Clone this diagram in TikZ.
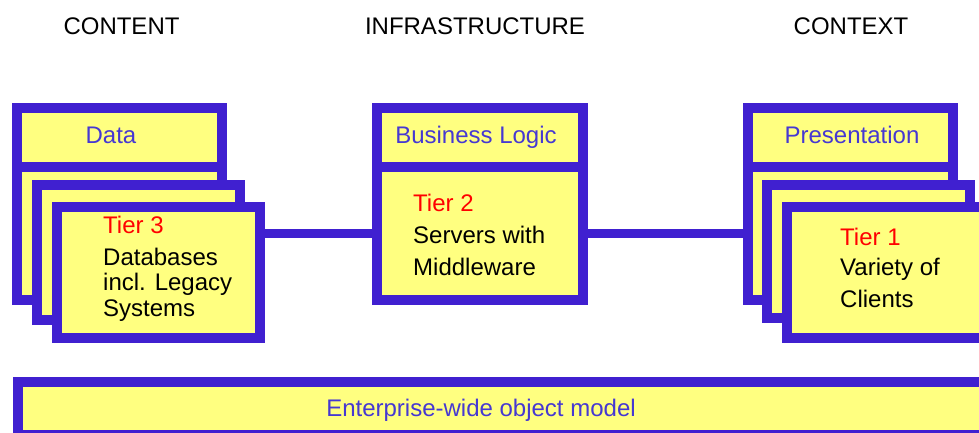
\documentclass[tikz,border=0pt]{standalone}
\usepackage{fontspec}
\setmainfont{Liberation Sans}
\definecolor{frameblue}{RGB}{64,32,208}
\definecolor{paleyellow}{RGB}{255,255,128}
\definecolor{titleblue}{RGB}{70,56,210}
\definecolor{tierred}{RGB}{255,0,0}
\tikzset{
  tierbox/.style={draw=frameblue, fill=paleyellow, line width=10pt, inner sep=0pt, rectangle},
  wire/.style={draw=frameblue, line width=9pt},
  txt/.style={inner sep=0pt, font=\fontsize{24}{25}\selectfont},
  heading/.style={txt, anchor=base, text=black},
  title/.style={txt, anchor=base, text=titleblue},
  tiername/.style={txt, anchor=base west, text=tierred},
  body/.style={txt, anchor=base west, text=black}
}
\begin{document}
\begin{tikzpicture}[x=1pt, y=-1pt]
\useasboundingbox (0,0) rectangle (979,433);
\clip (0,0) rectangle (979,433);

% column headings
\node[heading] (hcontent) at (121.5,35) {CONTENT};
\node[heading] (hinfra)   at (475,35)   {INFRASTRUCTURE};
\node[heading] (hcontext) at (851,35)   {CONTEXT};

% tier 3: stacked database boxes with "Data" header
\node[tierbox, minimum width=205pt, minimum height=133pt] (L1) at (119.5,233.5) {};
\node[tierbox, minimum width=205pt, minimum height=59pt]  (data) at (119.5,137.5) {};
\node[tierbox, minimum width=203pt, minimum height=135pt] (L2) at (138.5,252.5) {};
\node[tierbox, minimum width=203pt, minimum height=131pt] (L3) at (158.5,272.5) {};

% tier 2: middleware server with "Business Logic" header
\node[tierbox, minimum width=206pt, minimum height=133pt] (T2) at (480,233.5) {};
\node[tierbox, minimum width=206pt, minimum height=59pt]  (logic) at (480,137.5) {};

% tier 1: stacked client boxes with "Presentation" header
\node[tierbox, minimum width=205pt, minimum height=133pt] (R1) at (850.5,233.5) {};
\node[tierbox, minimum width=205pt, minimum height=59pt]  (pres) at (850.5,137.5) {};
\node[tierbox, minimum width=203pt, minimum height=133pt] (R2) at (868.5,251.5) {};
\node[tierbox, minimum width=203pt, minimum height=131pt] (R3) at (888.5,272.5) {};

% links between the tiers
\draw[wire] (T2.west -| L3.east) -- (T2.west);
\draw[wire] (T2.east) -- (R1.west);

% object model bar along the bottom
\node[tierbox, minimum width=977pt, minimum height=53pt] (model) at (506.5,408.5) {};

% header labels
\node[title] (tdata)  at (111,143) {Data};
\node[title] (tlogic) at (476,143) {Business Logic};
\node[title] (tpres)  at (852,143) {Presentation};
\node[title] (tmodel) at (481,416) {Enterprise-wide object model};

% tier texts
\node[tiername] (n3) at (103,233) {Tier 3};
\node[body] (n3a) at (103,265) {Databases};
\node[body] (n3b) at (103,290) {incl. Legacy};
\node[body] (n3c) at (103,316) {Systems};

\node[tiername] (n2) at (413,211) {Tier 2};
\node[body] (n2a) at (413,243) {Servers with};
\node[body] (n2b) at (413,275) {Middleware};

\node[tiername] (n1) at (840,245) {Tier 1};
\node[body] (n1a) at (840,275) {Variety of};
\node[body] (n1b) at (840,307) {Clients};
\end{tikzpicture}
\end{document}
